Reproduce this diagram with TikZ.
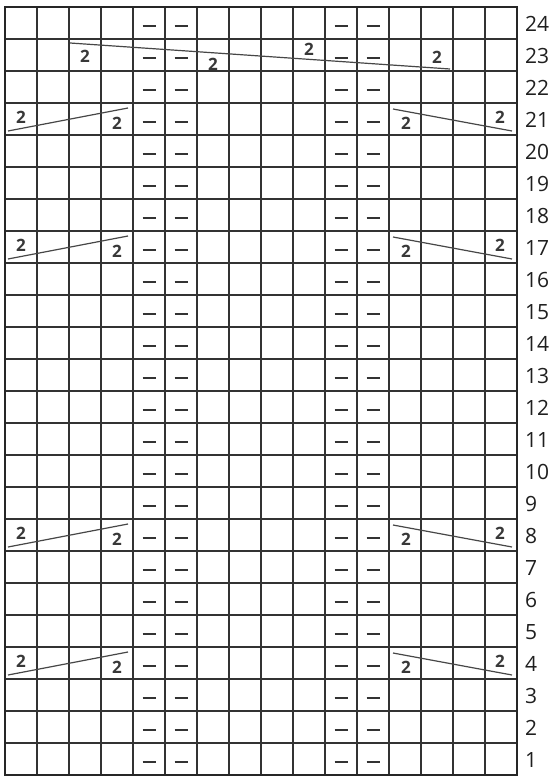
\documentclass[tikz,border=0pt]{standalone}
\usepackage{fontspec}
\setmainfont{Open Sans}
\begin{document}
\begin{tikzpicture}[x=1pt,y=-1pt,
  gridline/.style={line width=1.2pt, draw=black!80},
  border/.style={line width=2.6pt, draw=black!85},
  cable/.style={line width=1.2pt, draw=black!72},
  purl/.style={line width=2.2pt, draw=black!80},
  cnum/.style={font=\fontsize{17}{17}\selectfont\bfseries, text=black!78, inner sep=0pt},
  rnum/.style={font=\fontsize{21}{21}\selectfont, text=black!88, anchor=west, inner sep=0pt}]
\useasboundingbox (0,0) rectangle (555,778);
\fill[white] (0,0) rectangle (555,778);
% grid
\foreach \i in {1,...,15} \draw[gridline] ({5+32*\i},7) -- ({5+32*\i},775);
\foreach \j in {1,...,23} \draw[gridline] (5,{7+32*\j}) -- (517,{7+32*\j});
\draw[border] (5,7) rectangle (517,775);
% purl dashes
\foreach \c in {5,6,11,12} {
  \foreach \t in {1,...,24} {
    \draw[purl] ({5+32*\c-16-6.5},{7+32*(\t-1)+19}) -- ({5+32*\c-16+6.5},{7+32*(\t-1)+19});
  }
}
% row numbers
\foreach \n in {1,...,24} {
  \node[rnum] (r\n) at (525,{7+32*(24-\n)+17}) {\n};
}
% side cables
\foreach \T/\nm in {103/a,231/b,519/c,647/d} {
  \draw[cable] (8,\T+28) -- (128,\T+5);
  \node[cnum] (l1\nm) at (21,\T+14) {2};
  \node[cnum] (l4\nm) at (117,\T+20) {2};
  \draw[cable] (393,\T+6) -- (512,\T+28);
  \node[cnum] (r13\nm) at (406,\T+20) {2};
  \node[cnum] (r16\nm) at (500,\T+14) {2};
}
% long cable row 23
\draw[cable] (70,43) -- (450,69);
\node[cnum] (c3) at (85,56) {2};
\node[cnum] (c7) at (213,64) {2};
\node[cnum] (c10) at (309,49) {2};
\node[cnum] (c14) at (437,57) {2};
\end{tikzpicture}
\end{document}
